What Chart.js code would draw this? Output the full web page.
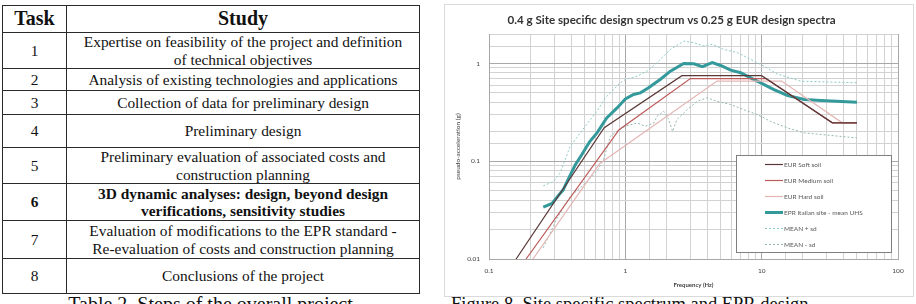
<!DOCTYPE html>
<html>
<head>
<meta charset="utf-8">
<script src="https://cdn.jsdelivr.net/npm/chart.js@4.4.1/dist/chart.umd.min.js"></script>
<style>
  body { margin: 0; background: #fff; width: 916px; height: 304px; overflow: hidden; position: relative; }
  #steps { position: absolute; left: 2px; top: 5px; width: 417px; border-collapse: collapse; table-layout: fixed;
           font-family: "Liberation Serif", "Times New Roman", serif; font-size: 15.4px; line-height: 17.5px; color: #111; }
  #steps td, #steps th { border: 1.5px solid #2a2a2a; text-align: center; vertical-align: middle; padding: 0; white-space: nowrap; }
  #steps th { font-size: 20px; font-weight: bold; }
  #steps tr.bold td { font-weight: bold; }
  .caption { position: absolute; font-family: "Liberation Serif", serif; color: #111; white-space: nowrap; }
  #chartBox { position: absolute; left: 444px; top: 4px; width: 468px; height: 291px; border: 1px solid #dadada; }
</style>
</head>
<body>
<table id="steps">
  <colgroup><col style="width:64px"><col style="width:353px"></colgroup>
  <tr style="height:27px"><th>Task</th><th>Study</th></tr>
  <tr style="height:36px"><td>1</td><td>Expertise on feasibility of the project and definition<br>of technical objectives</td></tr>
  <tr style="height:22px"><td>2</td><td>Analysis of existing technologies and applications</td></tr>
  <tr style="height:24px"><td>3</td><td>Collection of data for preliminary design</td></tr>
  <tr style="height:33px"><td>4</td><td>Preliminary design</td></tr>
  <tr style="height:34px"><td>5</td><td>Preliminary evaluation of associated costs and<br>construction planning</td></tr>
  <tr class="bold" style="height:37px"><td>6</td><td>3D dynamic analyses: design, beyond design<br>verifications, sensitivity studies</td></tr>
  <tr style="height:38px"><td>7</td><td>Evaluation of modifications to the EPR standard -<br>Re-evaluation of costs and construction planning</td></tr>
  <tr style="height:35px"><td>8</td><td>Conclusions of the project</td></tr>
</table>
<div class="caption" style="left:2px;top:294px;width:417px;text-align:center;font-size:20px;line-height:20px">Table 2. Steps of the overall project</div>
<div class="caption" style="left:451px;top:295px;font-size:18.5px;line-height:19px">Figure 8. Site specific spectrum and EPR design</div>

<div id="chartBox"><canvas id="spectrum" width="468" height="291"></canvas></div>

<script>
// frequency (Hz) / pseudo-acceleration (g)
const softFreq = [0.158, 0.70, 2.6, 10, 33, 50];
const softAcc  = [0.01, 0.22, 0.75, 0.75, 0.247, 0.247];

const mediumFreq = [0.187, 0.90, 3.0, 10.8, 33, 50];
const mediumAcc  = [0.01, 0.21, 0.70, 0.70, 0.247, 0.247];

const hardFreq = [0.21, 0.65, 4.7, 14, 39, 50];
const hardAcc  = [0.01, 0.095, 0.66, 0.66, 0.247, 0.247];

const uhsFreq = [0.25, 0.29, 0.32, 0.35, 0.39, 0.43, 0.48, 0.55, 0.62, 0.73, 0.87, 1.0, 1.15, 1.29, 1.48, 1.81,
                 2.14, 2.68, 3.18, 3.67, 4.34, 5.0, 5.92, 7.01, 8.3, 9.84, 12.3, 15.5, 20.5, 27.2, 50];
const uhsAcc  = [0.034, 0.037, 0.044, 0.051, 0.070, 0.092, 0.117, 0.16, 0.195, 0.277, 0.351, 0.434, 0.481, 0.50, 0.563, 0.69,
                 0.834, 1.0, 0.99, 0.925, 1.02, 0.953, 0.853, 0.803, 0.713, 0.634, 0.541, 0.47, 0.427, 0.417, 0.40];

const plusFreq = [0.25, 0.297, 0.333, 0.362, 0.394, 0.429, 0.508, 0.619, 0.713, 0.798, 0.918, 1.0, 1.22, 1.44, 1.71,
                  2.14, 2.68, 3.18, 3.77, 4.34, 5.28, 6.63, 8.3, 10.4, 13.0, 19.4, 50];
const plusAcc  = [0.056, 0.062, 0.076, 0.104, 0.142, 0.166, 0.228, 0.324, 0.445, 0.52, 0.634, 0.685, 0.741, 0.834, 1.02,
                  1.39, 1.69, 1.63, 1.51, 1.57, 1.39, 1.29, 1.1, 0.938, 0.78, 0.658, 0.634];

const minusFreq = [0.25, 0.281, 0.315, 0.394, 0.494, 0.619, 0.692, 0.776, 0.869, 1.0, 1.22, 1.40, 1.62, 1.71, 1.91,
                   2.08, 2.22, 2.39, 2.85, 3.37, 3.97, 4.7, 5.92, 7.4, 9.3, 11.6, 15.5, 20.5, 50];
const minusAcc  = [0.013, 0.0184, 0.0261, 0.0435, 0.0574, 0.0786, 0.104, 0.18, 0.202, 0.228, 0.246, 0.228, 0.246, 0.288, 0.324,
                   0.267, 0.202, 0.267, 0.337, 0.41, 0.445, 0.41, 0.38, 0.337, 0.30, 0.256, 0.219, 0.195, 0.173];

const seriesNames = ["EUR Soft soil", "EUR Medium soil", "EUR Hard soil", "EPR Italian site - mean UHS", "MEAN + sd", "MEAN - sd"];

// tick labels shown on the axes
const xTickLabels = [0.1, 1, 10, 100];
const yTickLabels = [0.01, 0.1, 1];

function toPoints(fs, as) {
  return fs.map((f, i) => ({ x: f, y: as[i] }));
}
function isShown(v, list) {
  return list.some(t => Math.abs(t - v) / t < 1e-6);
}
function isDecade(v) {
  const l = Math.log10(v);
  return Math.abs(l - Math.round(l)) < 1e-6;
}

// legend drawn inside the plot, bottom right, with a frame (like the excel one)
const boxLegend = {
  id: "boxLegend",
  afterDatasetsDraw(chart) {
    const { ctx, chartArea } = chart;
    const w = 155, h = 97;
    const x0 = Math.round(chartArea.right - 7 - w), y0 = Math.round(chartArea.bottom - 7 - h);
    ctx.save();
    ctx.fillStyle = "#fff";
    ctx.fillRect(x0, y0, w, h);
    ctx.strokeStyle = "#808080";
    ctx.lineWidth = 1;
    ctx.strokeRect(x0 + 0.5, y0 + 0.5, w, h);
    chart.data.datasets.forEach((ds, i) => {
      const y = Math.round(y0 + 8.5 + i * 16.1) + 0.5;
      ctx.beginPath();
      ctx.setLineDash(ds.borderDash || []);
      ctx.strokeStyle = ds.borderColor;
      ctx.lineWidth = ds.borderWidth;
      ctx.moveTo(x0 + 29, y);
      ctx.lineTo(x0 + 47, y);
      ctx.stroke();
      ctx.setLineDash([]);
      ctx.fillStyle = "#595959";
      ctx.font = "6.5px Lato";
      ctx.textBaseline = "middle";
      ctx.fillText(ds.label, x0 + 48, y);
    });
    ctx.restore();
  }
};

const gridColor = c => (c.tick && isDecade(c.tick.value)) ? "#a8a8a8" : "#d2d2d2";

const ctx = document.getElementById("spectrum").getContext("2d");
const spectrumChart = new Chart(ctx, {
  type: "scatter",
  data: {
    datasets: [
      { label: seriesNames[0], data: toPoints(softFreq, softAcc), borderColor: "#5a3838", borderWidth: 1.2 },
      { label: seriesNames[1], data: toPoints(mediumFreq, mediumAcc), borderColor: "#bd5a5a", borderWidth: 1.2 },
      { label: seriesNames[2], data: toPoints(hardFreq, hardAcc), borderColor: "#e3b6b4", borderWidth: 1.2 },
      { label: seriesNames[3], data: toPoints(uhsFreq, uhsAcc), borderColor: "#34999b", borderWidth: 3 },
      { label: seriesNames[4], data: toPoints(plusFreq, plusAcc), borderColor: "#8ccac5", borderWidth: 1, borderDash: [2, 2] },
      { label: seriesNames[5], data: toPoints(minusFreq, minusAcc), borderColor: "#93b9b4", borderWidth: 1, borderDash: [2, 2] },
    ].map(ds => Object.assign(ds, { showLine: true, pointRadius: 0, tension: 0, fill: false })),
  },
  options: {
    responsive: false,
    animation: false,
    devicePixelRatio: 1,
    layout: { padding: { left: 0, right: 15, top: 0, bottom: 0 } },
    plugins: {
      legend: { display: false },
      tooltip: { enabled: false },
      title: {
        display: true,
        text: "0.4 g Site specific design spectrum vs 0.25 g EUR design spectra",
        color: "#333",
        font: { family: "Lato", size: 11.6, weight: "bold", lineHeight: "12px" },
        padding: { top: 9, bottom: 8 },
      },
    },
    scales: {
      x: {
        type: "logarithmic",
        min: 0.1,
        max: 100,
        afterFit: s => { s.height = 37; },
        grid: { color: gridColor, lineWidth: 1, drawTicks: false },
        border: { color: "#a8a8a8" },
        ticks: {
          autoSkip: false,
          maxRotation: 0,
          padding: 8,
          color: "#404040",
          font: { family: "Lato", size: 6.5 },
          callback: v => isShown(v, xTickLabels) ? String(v) : "",
        },
        title: {
          display: true,
          text: "Frequency (Hz)",
          color: "#404040",
          font: { family: "Lato", size: 6, weight: "bold", lineHeight: "7px" },
          padding: { top: 0, bottom: 7.5 },
        },
      },
      y: {
        type: "logarithmic",
        min: 0.01,
        max: 2,
        afterFit: s => { s.width = 44; },
        grid: { color: gridColor, lineWidth: 1, drawTicks: false },
        border: { color: "#a8a8a8" },
        ticks: {
          autoSkip: false,
          padding: 9,
          color: "#404040",
          font: { family: "Lato", size: 6.5 },
          callback: v => isShown(v, yTickLabels) ? String(v) : "",
        },
        title: {
          display: true,
          text: "pseudo-acceleration (g)",
          color: "#404040",
          font: { family: "Lato", size: 6.5, lineHeight: "7px" },
          padding: { top: 9.5, bottom: 0 },
        },
      },
    },
  },
  plugins: [boxLegend],
});
</script>
</body>
</html>
